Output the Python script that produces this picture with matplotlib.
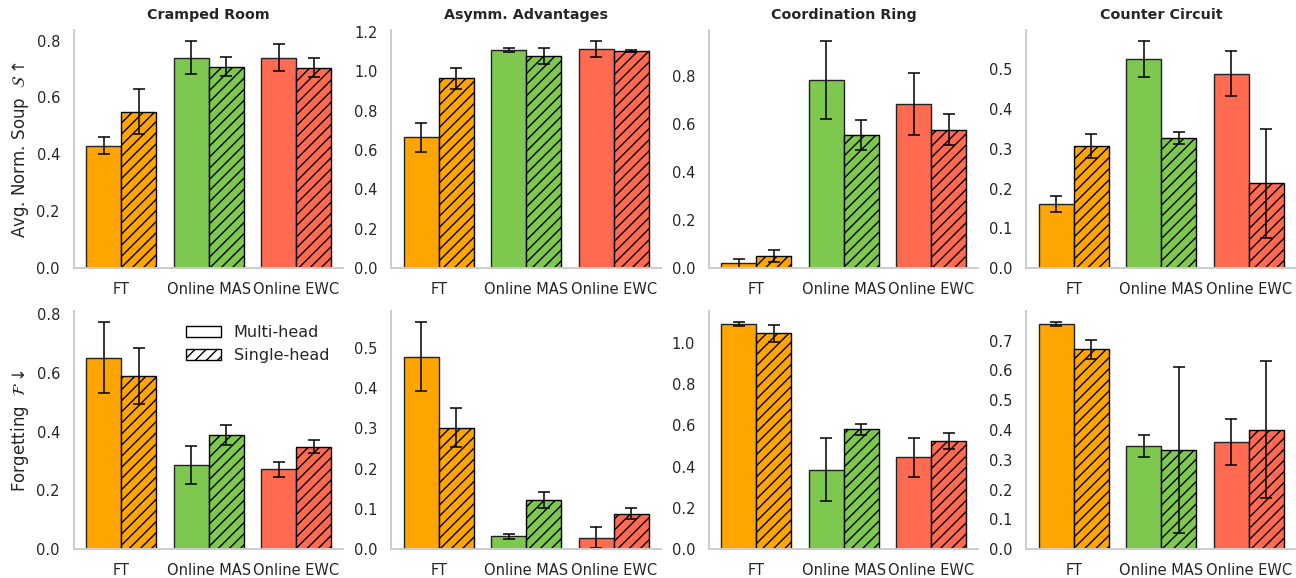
import numpy as np
import matplotlib.pyplot as plt
import matplotlib.patches as mpatches

methods = ['FT', 'Online MAS', 'Online EWC']
layouts = ['Cramped Room', 'Asymm. Advantages', 'Coordination Ring', 'Counter Circuit']
colors = ['#ffa500', '#7ec850', '#ff6a50']

# normalized soup, (multi-head, single-head) per method, one row per layout
soup_multi = [[0.43, 0.74, 0.74], [0.665, 1.106, 1.111], [0.020, 0.782, 0.684], [0.161, 0.525, 0.489]]
soup_multi_err = [[0.03, 0.057, 0.048], [0.074, 0.011, 0.040], [0.020, 0.162, 0.129], [0.021, 0.045, 0.057]]
soup_single = [[0.55, 0.708, 0.705], [0.964, 1.076, 1.100], [0.052, 0.555, 0.577], [0.307, 0.327, 0.214]]
soup_single_err = [[0.08, 0.033, 0.033], [0.054, 0.040, 0.005], [0.025, 0.063, 0.065], [0.030, 0.016, 0.137]]

# forgetting
forg_multi = [[0.651, 0.286, 0.272], [0.479, 0.032, 0.028], [1.089, 0.385, 0.444], [0.755, 0.345, 0.359]]
forg_multi_err = [[0.121, 0.066, 0.025], [0.085, 0.006, 0.026], [0.010, 0.152, 0.095], [0.006, 0.037, 0.077]]
forg_single = [[0.590, 0.389, 0.349], [0.302, 0.122, 0.088], [1.046, 0.580, 0.524], [0.671, 0.333, 0.401]]
forg_single_err = [[0.096, 0.035, 0.023], [0.049, 0.019, 0.013], [0.042, 0.027, 0.037], [0.032, 0.278, 0.229]]

ylabels = ['Avg. Norm. Soup  $\\mathcal{S}\\uparrow$', 'Forgetting  $\\mathcal{F}\\downarrow$']

plt.rcParams['font.family'] = 'DejaVu Sans'
plt.rcParams['hatch.linewidth'] = 1.0

fig, axes = plt.subplots(2, 4, figsize=(12.96, 5.78), dpi=100)
fig.subplots_adjust(left=0.057, right=1.0, bottom=0.050, top=0.948, wspace=0.178, hspace=0.18)

x = np.arange(len(methods))
w = 0.4
err_kw = dict(ecolor='black', capsize=4, elinewidth=1.1, capthick=1.1)

rows = [(soup_multi, soup_multi_err, soup_single, soup_single_err),
        (forg_multi, forg_multi_err, forg_single, forg_single_err)]

for r, (m, me, s, se) in enumerate(rows):
    for c in range(4):
        ax = axes[r, c]
        ax.bar(x - w / 2, m[c], w, yerr=me[c], color=colors, edgecolor='#222222',
               linewidth=1.0, error_kw=err_kw, zorder=2)
        ax.bar(x + w / 2, s[c], w, yerr=se[c], color=colors, edgecolor='black',
               linewidth=1.0, hatch='///', error_kw=err_kw, zorder=2)
        ax.set_xticks(x)
        ax.set_xticklabels(methods)
        ax.tick_params(axis='both', length=0, labelcolor='#262626', labelsize=10.5)
        ax.tick_params(axis='x', pad=10)
        ax.tick_params(axis='y', pad=10)
        for side in ['top', 'right']:
            ax.spines[side].set_visible(False)
        for side in ['left', 'bottom']:
            ax.spines[side].set_color('#cccccc')
            ax.spines[side].set_linewidth(1.4)
        if r == 0:
            ax.set_title(layouts[c], fontsize=10.3, fontweight='bold', color='#262626', pad=8)
        if c == 0:
            ax.set_ylabel(ylabels[r], fontsize=12, color='#262626', labelpad=4)

handles = [mpatches.Patch(facecolor='white', edgecolor='black', label='Multi-head'),
           mpatches.Patch(facecolor='white', edgecolor='black', hatch='///', label='Single-head')]
axes[1, 0].legend(handles=handles, loc='upper right', frameon=False, fontsize=11.5,
                  handlelength=2.2, labelcolor='#262626')

fig.savefig('out.png', dpi=100)
